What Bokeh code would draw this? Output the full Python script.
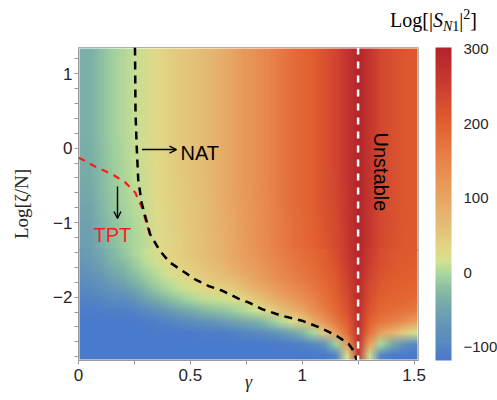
import base64
import struct
import zlib

import numpy as np
from bokeh.plotting import figure
from bokeh.layouts import column, row
from bokeh.models import (LinearColorMapper, ColorBar, FixedTicker, Label, Arrow,
                          OpenHead, Span, Div, Spacer)
from bokeh.embed import file_html
from bokeh.resources import INLINE

# ---------------- data ----------------
# upper part of the map (log(zeta/N) from -1.35 to 1.35), cell centres
upper_gamma = [0.05, 0.15, 0.25, 0.35, 0.45, 0.55, 0.65, 0.75, 0.85, 0.95,
               1.05, 1.15, 1.25, 1.35, 1.45, 1.55]
upper_logz = [1.125, 0.675, 0.225, -0.225, -0.675, -1.125]          # top -> bottom
upper_values = [
    [-36, -8, 10, 30, 48, 65, 90, 120, 150, 180, 205, 240, 300, 235, 212, 208],
    [-36, -8, 10, 30, 48, 65, 90, 120, 150, 180, 205, 240, 300, 235, 212, 208],
    [-37, -8, 10, 30, 48, 65, 90, 120, 150, 180, 205, 240, 300, 235, 212, 208],
    [-40, -10, 9, 29, 48, 65, 90, 120, 150, 180, 205, 240, 300, 235, 212, 208],
    [-46, -14, 6, 28, 47, 64, 89, 119, 149, 179, 204, 238, 299, 234, 212, 208],
    [-56, -22, 0, 24, 44, 62, 86, 116, 146, 176, 200, 232, 298, 232, 211, 208],
]

# lower part of the map (log(zeta/N) from -2.85 to -1.35), one list per gamma column
lower_gamma = [0.0, 0.05, 0.1, 0.15, 0.2, 0.25, 0.3, 0.35, 0.4, 0.45, 0.5, 0.55,
               0.6, 0.65, 0.7, 0.75, 0.8, 0.85, 0.9, 0.95, 1.0, 1.05, 1.1, 1.15,
               1.2, 1.25, 1.3, 1.35, 1.4, 1.45, 1.5]
lower_logz = [-1.425, -1.575, -1.725, -1.875, -2.025, -2.175, -2.325, -2.475,
              -2.625, -2.775]                                         # top -> bottom
lower_columns = [
    [-66, -75, -85, -95, -105, -112, -118, -120, -120, -120],
    [-60, -68, -78, -90, -102, -112, -118, -120, -120, -120],
    [-45, -55, -68, -82, -98, -110, -118, -120, -120, -120],
    [-28, -38, -52, -70, -90, -108, -117, -120, -120, -120],
    [-15, -28, -42, -62, -88, -107, -117, -120, -120, -120],
    [-2, -12, -26, -46, -74, -102, -116, -120, -120, -120],
    [10, 2, -10, -28, -55, -90, -112, -120, -120, -120],
    [22, 12, 2, -12, -38, -78, -108, -118, -120, -120],
    [35, 26, 14, 0, -25, -65, -102, -118, -120, -120],
    [44, 36, 25, 10, -12, -52, -95, -116, -120, -120],
    [52, 45, 35, 20, -2, -40, -88, -114, -120, -120],
    [62, 55, 45, 30, 6, -28, -80, -112, -120, -120],
    [72, 65, 53, 36, 10, -20, -72, -110, -120, -120],
    [85, 76, 62, 44, 14, -15, -62, -110, -120, -120],
    [98, 90, 76, 52, 22, -5, -52, -105, -120, -120],
    [112, 104, 90, 68, 38, 5, -42, -98, -118, -120],
    [125, 118, 106, 88, 55, 15, -35, -92, -118, -120],
    [140, 133, 122, 103, 74, 36, -15, -82, -116, -120],
    [155, 148, 138, 120, 95, 58, 2, -68, -114, -120],
    [168, 162, 152, 136, 112, 78, 22, -52, -110, -120],
    [180, 174, 165, 150, 130, 100, 45, -30, -105, -120],
    [192, 187, 180, 168, 152, 130, 85, 0, -95, -120],
    [205, 200, 195, 186, 175, 160, 125, 50, -70, -118],
    [225, 220, 214, 206, 198, 188, 168, 110, -5, -100],
    [258, 252, 245, 238, 230, 220, 205, 180, 120, 20],
    [295, 292, 290, 288, 285, 282, 280, 275, 270, 265],
    [255, 248, 240, 232, 225, 215, 200, 175, 110, 10],
    [228, 222, 216, 208, 200, 190, 170, 105, 0, -100],
    [215, 211, 206, 200, 194, 182, 155, 80, -40, -115],
    [210, 206, 202, 196, 190, 175, 135, 45, -75, -120],
    [208, 204, 200, 194, 185, 165, 110, 15, -95, -120],
]

# NAT boundary (black dashed)
nat_gamma = [0.2525, 0.254, 0.255, 0.26, 0.267, 0.282, 0.32, 0.364, 0.409, 0.476,
             0.521, 0.581, 0.64, 0.715, 0.76, 0.82, 0.909, 0.999, 1.081, 1.155,
             1.208, 1.23, 1.245]
nat_logz = [1.35, 0.8, 0.47, 0.03, -0.42, -0.73, -1.155, -1.38, -1.535, -1.67,
            -1.76, -1.85, -1.91, -2.02, -2.07, -2.16, -2.25, -2.316, -2.41, -2.52,
            -2.63, -2.72, -2.85]
# TPT boundary (red dashed)
tpt_gamma = [0.0, 0.015, 0.082, 0.15, 0.209, 0.254, 0.284, 0.305, 0.32]
tpt_logz = [-0.13, -0.15, -0.26, -0.35, -0.46, -0.6, -0.8, -1.02, -1.155]
# instability line
unstable_gamma = 1.25

x_ticks = [0, 0.5, 1, 1.5]
x_minor = [0.25, 0.75, 1.25]
y_ticks = [-2, -1, 0, 1]
y_minor = [-2.8, -2.6, -2.4, -2.2, -1.8, -1.6, -1.4, -1.2, -0.8, -0.6, -0.4, -0.2,
           0.2, 0.4, 0.6, 0.8, 1.2]
cbar_ticks = [-100, 0, 100, 200, 300]
cbar_low, cbar_high = -118, 302

# ---------------- colour map ----------------
anchors = [(-118, "#4a7acc"), (-100, "#5586c3"), (-70, "#6596b8"), (-40, "#78aca8"),
           (-20, "#8cc1a0"), (0, "#acd99c"), (15, "#d2e290"), (30, "#e2d886"),
           (60, "#e4c078"), (100, "#e8a462"), (150, "#e8844a"), (200, "#e2602f"),
           (250, "#cc3e30"), (302, "#b2242c")]
av = np.array([a[0] for a in anchors], float)
ac = np.array([[int(c[1][i:i + 2], 16) for i in (1, 3, 5)] for c in anchors], float)
levels = np.linspace(cbar_low, cbar_high, 256)
pal_rgb = np.array([[int(round(np.interp(g, av, ac[:, k]))) for k in range(3)]
                    for g in levels], dtype=np.uint8)
palette = ["#%02x%02x%02x" % tuple(c) for c in pal_rgb]
mapper = LinearColorMapper(palette=palette, low=cbar_low, high=cbar_high)


def mapped_png(values):
    """Colour the cells with the colour mapper's palette and pack them in a PNG
    (one pixel per cell, row 0 = top) so the browser can draw it smoothly."""
    v = np.asarray(values, float)
    idx = np.clip(((v - cbar_low) / (cbar_high - cbar_low) * 256).astype(int), 0, 255)
    rgb = pal_rgb[idx]
    h, w, _ = rgb.shape
    raw = b"".join(b"\x00" + rgb[r].tobytes() for r in range(h))

    def chunk(tag, data):
        c = struct.pack(">I", len(data)) + tag + data
        return c + struct.pack(">I", zlib.crc32(tag + data) & 0xFFFFFFFF)

    png = (b"\x89PNG\r\n\x1a\n"
           + chunk(b"IHDR", struct.pack(">IIBBBBB", w, h, 8, 2, 0, 0, 0))
           + chunk(b"IDAT", zlib.compress(raw))
           + chunk(b"IEND", b""))
    return "data:image/png;base64," + base64.b64encode(png).decode()


# ---------------- main figure ----------------
p = figure(width=430, height=366, x_range=(0, 1.52), y_range=(-2.85, 1.35),
           output_backend="svg", toolbar_location=None, title=None,
           min_border_left=78, min_border_top=13, min_border_bottom=40, min_border_right=12)
p.grid.visible = False
p.background_fill_color = "white"
p.outline_line_color = "#b0b0b0"

# upper block, stretched 0.03 down so it slides under the lower block (no seam)
dxu = upper_gamma[1] - upper_gamma[0]
dyu = upper_logz[0] - upper_logz[1]
seam_overlap = 0.03
p.image_url(url=[mapped_png(upper_values)], x=upper_gamma[0] - dxu / 2,
            y=upper_logz[-1] - dyu / 2 - seam_overlap, w=dxu * len(upper_gamma),
            h=dyu * len(upper_logz) + seam_overlap, anchor="bottom_left")

lower_rows = np.array(lower_columns, float).T          # top -> bottom
dxl = lower_gamma[1] - lower_gamma[0]
dyl = lower_logz[0] - lower_logz[1]
p.image_url(url=[mapped_png(lower_rows)], x=lower_gamma[0] - dxl / 2,
            y=lower_logz[-1] - dyl / 2, w=dxl * len(lower_gamma),
            h=dyl * len(lower_logz), anchor="bottom_left")

p.line(tpt_gamma, tpt_logz, line_color="#ff1a1a", line_width=2.2, line_dash="7 6")
p.line(nat_gamma, nat_logz, line_color="black", line_width=2.5, line_dash="8 6")
p.add_layout(Span(location=unstable_gamma, dimension="height", line_color="white",
                  line_width=2.5, line_dash="7 7"))

# axes
p.xaxis.ticker = FixedTicker(ticks=x_ticks, minor_ticks=x_minor)
p.yaxis.ticker = FixedTicker(ticks=y_ticks, minor_ticks=y_minor)
for ax in (p.xaxis[0], p.yaxis[0]):
    ax.axis_line_color = "#9a9a9a"
    ax.major_tick_line_color = "#9a9a9a"
    ax.minor_tick_line_color = "#9a9a9a"
    ax.major_tick_in = 0
    ax.major_tick_out = 4
    ax.minor_tick_in = 0
    ax.minor_tick_out = 4
    ax.major_label_text_font = "Liberation Sans"
    ax.major_label_text_font_size = "17px"
    ax.major_label_text_color = "#262626"
    ax.axis_label_text_font = "Liberation Serif"
    ax.axis_label_text_font_size = "19px"
    ax.axis_label_text_color = "#262626"
p.xaxis.major_label_standoff = 4
p.yaxis.major_label_standoff = 2
p.xaxis.axis_label = "γ"
p.xaxis.axis_label_text_font_size = "18px"
p.xaxis.axis_label_text_font_style = "italic"
p.xaxis.axis_label_standoff = -12
p.yaxis.axis_label = "Log[ζ/N]"
p.yaxis.axis_label_text_font_style = "normal"
p.yaxis.axis_label_standoff = 18


# helper: reference-pixel position -> data coordinates (for annotation placement)
def gx(px):
    return (px - 78.0) / 223.7


def gy(py):
    return (147.6 - py) / 74.5


p.add_layout(Arrow(end=OpenHead(size=7, line_width=1.4, line_color="black"),
                   x_start=gx(141.5), y_start=gy(149), x_end=gx(176), y_end=gy(149),
                   line_width=1.4, line_color="black"))
p.add_layout(Arrow(end=OpenHead(size=7, line_width=1.4, line_color="black"),
                   x_start=gx(117), y_start=gy(186), x_end=gx(117), y_end=gy(218),
                   line_width=1.4, line_color="black"))
p.add_layout(Label(x=gx(180), y=gy(152), text="NAT", text_font="Liberation Sans",
                   text_font_size="20px", text_baseline="middle", text_color="black"))
p.add_layout(Label(x=gx(93), y=gy(234), text="TPT", text_font="Liberation Sans",
                   text_font_size="20px", text_baseline="middle", text_color="#ff1a1a"))
p.add_layout(Label(x=gx(381), y=gy(132), text="Unstable", angle=-np.pi / 2,
                   text_font="Liberation Sans", text_font_size="20px",
                   text_align="left", text_baseline="middle", text_color="black"))

# ---------------- colour bar: side panel of a thin companion figure ----------------
# its 5 px wide frame spans the same height as the heat map, so the bar does too
cb_fig = figure(frame_width=5, frame_height=313, x_range=(0, 1), y_range=(0, 1),
                output_backend="svg", toolbar_location=None, title=None,
                x_axis_location=None, y_axis_location=None,
                min_border_left=0, min_border_top=13, min_border_bottom=40,
                min_border_right=62)
cb_fig.grid.visible = False
cb_fig.outline_line_color = None
cbar = ColorBar(color_mapper=mapper, ticker=FixedTicker(ticks=cbar_ticks), width=16,
                major_label_text_font="Liberation Sans", major_label_text_font_size="15px",
                major_label_text_color="#262626", major_tick_line_color=None,
                minor_tick_line_color=None, bar_line_color=None, border_line_color=None,
                background_fill_alpha=0, padding=0, label_standoff=12)
cb_fig.add_layout(cbar, "right")

# colour-bar title  Log[|S_N1|^2]
title_html = ('<span style="position:relative;top:10px">Log[|<i>S</i>'
              '<span style="position:relative;top:4px;font-size:14px"><i>N</i>1</span>|'
              '<span style="position:relative;top:-8px;font-size:14px">2</span>]</span>')
title_div = Div(text=title_html, width=107, height=34, margin=0,
                styles={"font-family": "Liberation Serif", "font-size": "20px",
                        "color": "black", "line-height": "20px", "white-space": "nowrap"})
layout = column(row(Spacer(width=390, height=34, margin=0), title_div), row(p, cb_fig))

open("out.html", "w").write(file_html(layout, INLINE))
